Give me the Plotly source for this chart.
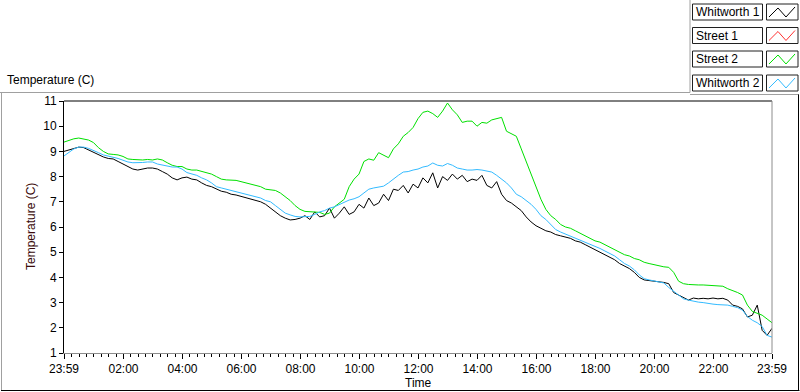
import plotly.graph_objects as go
import pandas as pd

# ---------------- data ----------------
series_names = ["Whitworth 1", "Street 1", "Street 2", "Whitworth 2"]
series_colors = ["#000000", "#ff3030", "#00e000", "#33bbff"]

start_time = "2024-01-01 23:59"
step_minutes = 10

whitworth_1 = [
    9.0, 9.05, 9.1, 9.17, 9.15, 9.05, 8.95, 8.85, 8.78, 8.72,
    8.7, 8.6, 8.5, 8.4, 8.3, 8.26, 8.3, 8.34, 8.34, 8.3,
    8.2, 8.1, 7.95, 7.87, 7.95, 7.98, 7.9, 7.87, 7.75, 7.65,
    7.6, 7.5, 7.42, 7.38, 7.3, 7.27, 7.22, 7.15, 7.1, 7.05,
    7.0, 6.9, 6.75, 6.6, 6.45, 6.35, 6.28, 6.3, 6.35, 6.45,
    6.3, 6.6, 6.4, 6.45, 6.75, 6.35, 6.55, 6.8, 6.5, 6.6,
    6.9, 6.75, 7.15, 6.85, 6.95, 7.3, 7.05, 7.5, 7.45, 7.65,
    7.35, 7.7, 7.55, 7.95, 7.75, 8.15, 7.55, 8.0, 7.85, 8.1,
    7.9, 8.05, 7.8, 7.9, 7.85, 8.05, 7.65, 7.55, 7.8, 7.3,
    7.05, 6.95, 6.8, 6.65, 6.4, 6.2, 6.05, 5.95, 5.85, 5.8,
    5.7, 5.65, 5.6, 5.55, 5.45, 5.4, 5.3, 5.2, 5.12, 5.0,
    4.9, 4.8, 4.7, 4.55, 4.45, 4.35, 4.2, 4.0, 3.9, 3.88,
    3.85, 3.82, 3.8, 3.75, 3.4, 3.3, 3.2, 3.1, 3.18, 3.15,
    3.17, 3.15, 3.18, 3.15, 3.17, 3.1, 2.9, 2.85, 2.75, 2.43,
    2.5, 2.9, 1.9, 1.7, 1.98,
]

street_1 = []

street_2 = [
    9.37, 9.45, 9.5, 9.53, 9.5, 9.45, 9.35, 9.15, 9.0, 8.9,
    8.88, 8.86, 8.8, 8.7, 8.68, 8.66, 8.66, 8.68, 8.66, 8.7,
    8.66, 8.55, 8.45, 8.4, 8.4, 8.3, 8.26, 8.26, 8.2, 8.14,
    8.1, 8.0, 7.9, 7.87, 7.87, 7.85, 7.8, 7.75, 7.72, 7.65,
    7.6, 7.5, 7.47, 7.45, 7.35, 7.2, 7.05, 6.85, 6.7, 6.62,
    6.6, 6.6, 6.58, 6.5, 6.55, 6.8, 6.95, 7.1, 7.6, 7.9,
    8.1, 8.6, 8.7, 8.65, 8.95, 8.85, 8.75, 9.1, 9.3, 9.6,
    9.75, 9.95, 10.3, 10.55, 10.6, 10.5, 10.35, 10.6, 10.92, 10.65,
    10.45, 10.15, 10.2, 10.2, 10.0, 10.15, 10.12, 10.25, 10.3, 10.35,
    9.8, 9.7, 9.6, 9.1, 8.6, 8.05, 7.6, 7.1, 6.7, 6.45,
    6.3, 6.1, 6.0, 5.95, 5.85, 5.75, 5.65, 5.55, 5.45, 5.4,
    5.3, 5.2, 5.1, 5.0, 4.9, 4.85, 4.75, 4.7, 4.6, 4.55,
    4.5, 4.45, 4.42, 4.4, 4.2, 3.85, 3.75, 3.72, 3.7, 3.7,
    3.7, 3.68, 3.68, 3.66, 3.65, 3.55, 3.48, 3.4, 3.3, 2.9,
    2.65, 2.58, 2.5, 2.35, 2.2,
]

whitworth_2 = [
    8.82, 8.95, 9.1, 9.17, 9.17, 9.12, 9.05, 8.95, 8.86, 8.82,
    8.78, 8.72, 8.65, 8.58, 8.55, 8.55, 8.56, 8.58, 8.58, 8.5,
    8.46, 8.42, 8.38, 8.38, 8.3, 8.16, 8.12, 8.05, 7.95, 7.87,
    7.75, 7.6, 7.55, 7.5, 7.45, 7.4, 7.35, 7.3, 7.27, 7.2,
    7.15, 7.05, 7.0, 6.85, 6.7, 6.55, 6.48, 6.42, 6.4, 6.4,
    6.42, 6.5, 6.6, 6.65, 6.75, 6.8, 6.9, 7.0, 7.07, 7.12,
    7.2, 7.35, 7.5, 7.55, 7.6, 7.62, 7.75, 7.92, 8.05, 8.18,
    8.2, 8.26, 8.3, 8.38, 8.42, 8.54, 8.45, 8.42, 8.52, 8.45,
    8.34, 8.3, 8.26, 8.26, 8.28, 8.26, 8.22, 8.18, 8.05, 7.9,
    7.75, 7.55, 7.3, 7.2, 7.05, 6.9, 6.7, 6.45, 6.3, 6.1,
    5.9, 5.8, 5.72, 5.64, 5.56, 5.48, 5.4, 5.32, 5.25, 5.15,
    5.05, 4.95, 4.85, 4.7, 4.55, 4.45, 4.3, 4.1, 3.95, 3.9,
    3.85, 3.82, 3.78, 3.6, 3.45, 3.3, 3.15, 3.1, 3.05, 3.02,
    3.0, 2.96, 2.94, 2.92, 2.9, 2.9, 2.85, 2.8, 2.7, 2.45,
    2.3, 2.2, 2.05, 1.7, 1.63,
]

x_tick_values = [
    "2024-01-01 23:59", "2024-01-02 02:00", "2024-01-02 04:00", "2024-01-02 06:00",
    "2024-01-02 08:00", "2024-01-02 10:00", "2024-01-02 12:00", "2024-01-02 14:00",
    "2024-01-02 16:00", "2024-01-02 18:00", "2024-01-02 20:00", "2024-01-02 22:00",
    "2024-01-02 23:59",
]
x_tick_labels = ["23:59", "02:00", "04:00", "06:00", "08:00", "10:00", "12:00",
                 "14:00", "16:00", "18:00", "20:00", "22:00", "23:59"]
y_tick_values = [1, 2, 3, 4, 5, 6, 7, 8, 9, 10, 11]

# --------------- figure ---------------
W, H = 800, 392
L, R, T, B = 64, 772, 101, 353
FONT = "Liberation Sans"
FS = 12


def px(xp):
    return (xp - L) / (R - L)


def py(yp):
    return (B - yp) / (B - T)


t0 = pd.Timestamp(start_time)
times = [t0 + pd.Timedelta(minutes=step_minutes * i) for i in range(len(whitworth_1))]

fig = go.Figure()
all_series = [whitworth_1, street_1, street_2, whitworth_2]
for name, vals, col in zip(series_names, all_series, series_colors):
    fig.add_trace(go.Scatter(
        x=times[:len(vals)], y=vals, mode="lines", name=name,
        line=dict(color=col, width=1), showlegend=False,
    ))

fig.update_layout(
    width=W, height=H,
    margin=dict(l=L, r=W - R, t=T, b=H - B, pad=0),
    paper_bgcolor="white", plot_bgcolor="white",
    font=dict(family=FONT, size=FS, color="black"),
    showlegend=False,
)

fig.update_xaxes(
    range=[x_tick_values[0], x_tick_values[-1]],
    tickmode="array", tickvals=x_tick_values, ticktext=x_tick_labels,
    ticks="outside", ticklen=5, tickcolor="black", tickwidth=1,
    showgrid=False, zeroline=False,
    showline=True, linecolor="#8c8c8c", linewidth=1,
    tickfont=dict(family=FONT, size=FS, color="black"),
    minor=dict(ticks="outside", ticklen=3, tickcolor="black", tickwidth=1,
               dtick=15 * 60 * 1000, tick0="2024-01-02 00:00", showgrid=False),
)
fig.update_yaxes(
    range=[1, 11], tickmode="array", tickvals=y_tick_values,
    ticks="outside", ticklen=4, tickcolor="black", tickwidth=1,
    showgrid=False, zeroline=False,
    showline=True, linecolor="black", linewidth=1,
    tickfont=dict(family=FONT, size=FS, color="black"),
)

shapes = []
# plot frame: top black, right gray
shapes.append(dict(type="line", xref="paper", yref="paper", x0=0, x1=1, y0=1, y1=1,
                   line=dict(color="black", width=1)))
shapes.append(dict(type="line", xref="paper", yref="paper", x0=1, x1=1, y0=0, y1=1,
                   line=dict(color="#8c8c8c", width=1)))
# outer panel frame
shapes.append(dict(type="line", xref="paper", yref="paper", x0=px(0), x1=px(690), y0=py(92.5), y1=py(92.5),
                   line=dict(color="#a0a0a0", width=1)))
shapes.append(dict(type="line", xref="paper", yref="paper", x0=px(690), x1=px(690), y0=py(0), y1=py(92.5),
                   line=dict(color="#a0a0a0", width=1)))
shapes.append(dict(type="line", xref="paper", yref="paper", x0=px(690), x1=px(799), y0=py(94.5), y1=py(94.5),
                   line=dict(color="#a0a0a0", width=1)))
shapes.append(dict(type="line", xref="paper", yref="paper", x0=px(1.5), x1=px(1.5), y0=py(92.5), y1=py(391),
                   line=dict(color="#a0a0a0", width=1)))
shapes.append(dict(type="line", xref="paper", yref="paper", x0=px(1), x1=px(799.5), y0=py(390.5), y1=py(390.5),
                   line=dict(color="black", width=1)))
shapes.append(dict(type="line", xref="paper", yref="paper", x0=px(798.5), x1=px(798.5), y0=py(94.5), y1=py(391),
                   line=dict(color="black", width=1)))

annotations = []
row_tops = [4, 27.5, 51, 75]
for name, col, top in zip(series_names, series_colors, row_tops):
    bot = top + 16
    shapes.append(dict(type="rect", xref="paper", yref="paper",
                       x0=px(692.5), x1=px(762.5), y0=py(bot), y1=py(top),
                       line=dict(color="#202020", width=1), fillcolor="white"))
    shapes.append(dict(type="rect", xref="paper", yref="paper",
                       x0=px(766.5), x1=px(798), y0=py(bot), y1=py(top),
                       line=dict(color="#202020", width=1), fillcolor="white"))
    path_pts = [(769, top + 13), (778, top + 4), (786, top + 13), (795, top + 3)]
    path = "M " + " L ".join(f"{px(a):.5f},{py(b):.5f}" for a, b in path_pts)
    shapes.append(dict(type="path", xref="paper", yref="paper", path=path,
                       line=dict(color=col, width=1)))
    annotations.append(dict(text=name, xref="paper", yref="paper", x=px(694), y=py(top + 8),
                            xanchor="left", yanchor="middle", showarrow=False,
                            font=dict(family=FONT, size=FS, color="black")))

annotations.append(dict(text="Temperature (C)", xref="paper", yref="paper", x=px(5), y=py(80),
                        xanchor="left", yanchor="middle", showarrow=False,
                        font=dict(family=FONT, size=FS, color="black")))
annotations.append(dict(text="Temperature (C)", xref="paper", yref="paper", x=px(31), y=py(227),
                        xanchor="center", yanchor="middle", showarrow=False, textangle=-90,
                        font=dict(family=FONT, size=FS, color="#3a0a0a")))
annotations.append(dict(text="Time", xref="paper", yref="paper", x=px(418), y=py(383),
                        xanchor="center", yanchor="middle", showarrow=False,
                        font=dict(family=FONT, size=FS, color="black")))

fig.update_layout(shapes=shapes, annotations=annotations)
fig.write_html(
    "out.html",
    config={"displayModeBar": False},
    post_script="document.body.style.margin='0';document.body.style.padding='0';",
)
